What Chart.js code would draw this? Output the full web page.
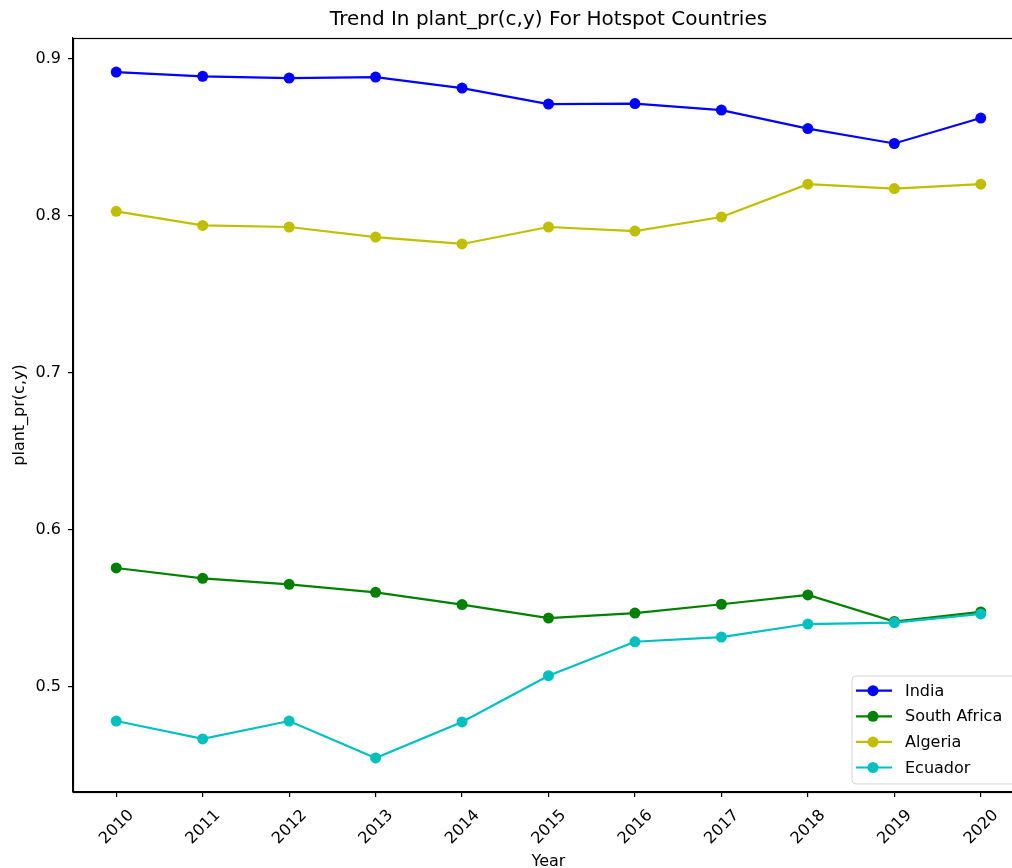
<!DOCTYPE html>
<html>
<head>
<meta charset="utf-8">
<title>Trend In plant_pr(c,y) For Hotspot Countries</title>
<script src="https://cdn.jsdelivr.net/npm/chart.js@4.4.0/dist/chart.umd.min.js"></script>
<style>
  html, body { margin: 0; padding: 0; overflow: hidden; background: #ffffff; width: 1012px; height: 868px; }
  #wrap { position: relative; width: 1036px; height: 880px; }
  canvas { display: block; }
</style>
</head>
<body>
<div id="wrap"><canvas id="chart" width="1036" height="880"></canvas></div>
<script>
// Years on the x axis
const years = [2010, 2011, 2012, 2013, 2014, 2015, 2016, 2017, 2018, 2019, 2020];

// plant_pr(c,y) per country
const india       = [0.8917, 0.8890, 0.8879, 0.8885, 0.8815, 0.8713, 0.8716, 0.8675, 0.8557, 0.8462, 0.8624];
const southAfrica = [0.5758, 0.5692, 0.5654, 0.5603, 0.5525, 0.5439, 0.5471, 0.5527, 0.5586, 0.5417, 0.5478];
const algeria     = [0.8030, 0.7940, 0.7930, 0.7866, 0.7822, 0.7930, 0.7904, 0.7994, 0.8203, 0.8175, 0.8203];
const ecuador     = [0.4783, 0.4669, 0.4783, 0.4548, 0.4777, 0.5072, 0.5288, 0.5318, 0.5401, 0.5410, 0.5465];

const countries = ['India', 'South Africa', 'Algeria', 'Ecuador'];
const seriesColors = ['#0000ff', '#008000', '#bfbf00', '#00bfbf'];
const yTickValues = [0.5, 0.6, 0.7, 0.8, 0.9];

const chartTitle = 'Trend In plant_pr(c,y) For Hotspot Countries';
const xTitle = 'Year';
const yTitle = 'plant_pr(c,y)';

const FONT = "'DejaVu Sans', sans-serif";
const series = [india, southAfrica, algeria, ecuador];

const datasets = series.map((vals, i) => ({
  label: countries[i],
  data: years.map((yr, j) => ({ x: yr, y: vals[j] })),
  borderColor: seriesColors[i],
  backgroundColor: seriesColors[i],
  pointBackgroundColor: seriesColors[i],
  pointBorderColor: seriesColors[i],
  pointRadius: 5.5,
  pointBorderWidth: 0,
  borderWidth: 2.2,
  tension: 0,
  fill: false,
  order: series.length - 1 - i   // later series drawn on top
}));

// Keep the title centred over the plotting area
const centreTitle = {
  id: 'centreTitle',
  afterLayout(chart) {
    const t = chart.titleBlock;
    if (t) {
      t.left = chart.chartArea.left;
      t.right = chart.chartArea.right;
      t.width = t.right - t.left;
    }
  }
};

// Full frame around the axes plus the legend box in the lower right corner
const frameAndLegend = {
  id: 'frameAndLegend',
  afterDraw(chart) {
    const ctx = chart.ctx;
    const a = chart.chartArea;
    ctx.save();
    ctx.strokeStyle = '#000000';
    ctx.lineWidth = 1.2;
    ctx.strokeRect(Math.round(a.left) + 0.5, Math.round(a.top) + 0.5,
                   Math.round(a.right - a.left), Math.round(a.bottom - a.top));

    const w = 164, h = 108, rowH = 25.6;
    const x = a.right - 8 - w, y = a.bottom - 8 - h;
    const r = 4;
    ctx.beginPath();
    ctx.moveTo(x + r, y);
    ctx.lineTo(x + w - r, y);
    ctx.quadraticCurveTo(x + w, y, x + w, y + r);
    ctx.lineTo(x + w, y + h - r);
    ctx.quadraticCurveTo(x + w, y + h, x + w - r, y + h);
    ctx.lineTo(x + r, y + h);
    ctx.quadraticCurveTo(x, y + h, x, y + h - r);
    ctx.lineTo(x, y + r);
    ctx.quadraticCurveTo(x, y, x + r, y);
    ctx.closePath();
    ctx.fillStyle = 'rgba(255,255,255,0.8)';
    ctx.fill();
    ctx.strokeStyle = 'rgba(204,204,204,0.8)';
    ctx.lineWidth = 1;
    ctx.stroke();

    chart.data.datasets.forEach((ds, i) => {
      const cy = y + 14.7 + i * rowH;
      ctx.strokeStyle = ds.borderColor;
      ctx.lineWidth = ds.borderWidth;
      ctx.beginPath();
      ctx.moveTo(x + 4, cy);
      ctx.lineTo(x + 40, cy);
      ctx.stroke();
      ctx.fillStyle = ds.borderColor;
      ctx.beginPath();
      ctx.arc(x + 21, cy, ds.pointRadius, 0, Math.PI * 2);
      ctx.fill();
      ctx.fillStyle = '#000000';
      ctx.font = '16px ' + FONT;
      ctx.textAlign = 'left';
      ctx.textBaseline = 'middle';
      ctx.fillText(ds.label, x + 53, cy + 1);
    });
    ctx.restore();
  }
};

new Chart(document.getElementById('chart'), {
  type: 'line',
  data: { datasets },
  plugins: [centreTitle, frameAndLegend],
  options: {
    responsive: false,
    animation: false,
    devicePixelRatio: 1,
    layout: { padding: { left: 0, right: 12, top: 0, bottom: 0 } },
    plugins: {
      legend: { display: false },
      tooltip: { enabled: false },
      title: {
        display: true,
        text: chartTitle,
        color: '#000000',
        font: { family: FONT, size: 20, weight: 'normal', lineHeight: 1.2 },
        padding: { top: 8, bottom: 6 }
      }
    },
    scales: {
      x: {
        type: 'linear',
        min: 2009.5,
        max: 2020.5,
        afterBuildTicks(scale) { scale.ticks = years.map(v => ({ value: v })); },
        afterFit(scale) { scale.height = 880 - 792; },
        grid: { display: true, drawOnChartArea: false, drawTicks: true, tickLength: 5, color: '#000000', lineWidth: 1.2 },
        border: { display: true, color: '#000000', width: 1.2 },
        ticks: {
          autoSkip: false,
          maxRotation: 45,
          minRotation: 45,
          labelOffset: 15,
          padding: 9,
          color: '#000000',
          font: { family: FONT, size: 16 },
          callback: v => String(v)
        },
        title: {
          display: true,
          text: xTitle,
          color: '#000000',
          font: { family: FONT, size: 16, lineHeight: 1.2 },
          padding: { top: 0, bottom: 9 }
        }
      },
      y: {
        type: 'linear',
        min: 0.4331,
        max: 0.9134,
        afterBuildTicks(scale) { scale.ticks = yTickValues.map(v => ({ value: v })); },
        afterFit(scale) { scale.width = 73; },
        grid: { display: true, drawOnChartArea: false, drawTicks: true, tickLength: 5, color: '#000000', lineWidth: 1.2 },
        border: { display: true, color: '#000000', width: 1.2 },
        ticks: {
          padding: 7,
          color: '#000000',
          font: { family: FONT, size: 16 },
          callback: v => v.toFixed(1)
        },
        title: {
          display: true,
          text: yTitle,
          color: '#000000',
          font: { family: FONT, size: 16, lineHeight: 1.2 },
          padding: { top: 10, bottom: 0 }
        }
      }
    }
  }
});
</script>
</body>
</html>
